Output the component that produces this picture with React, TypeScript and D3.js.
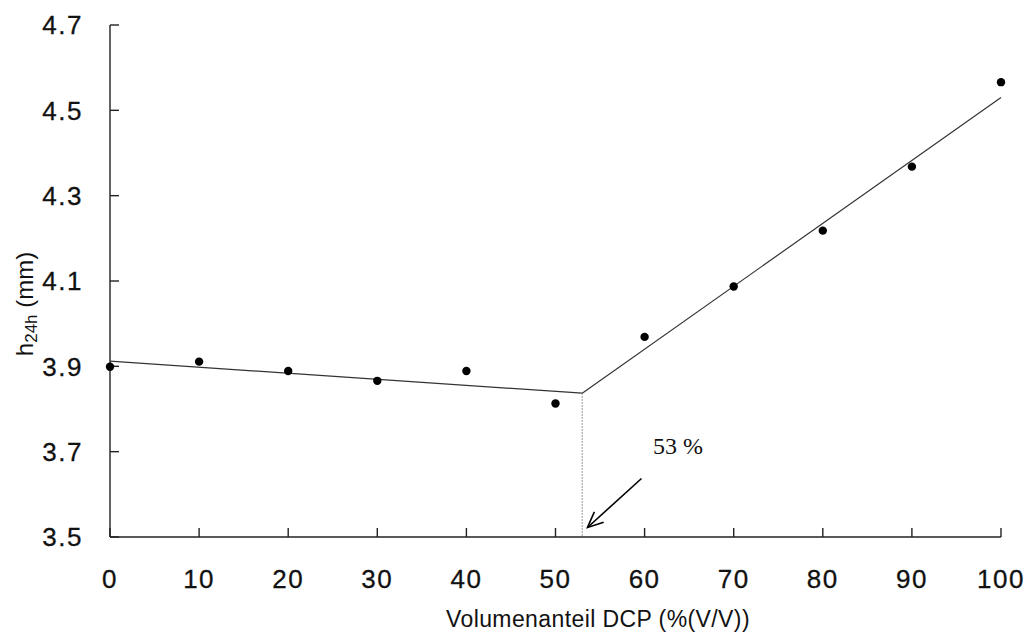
import React from "react";
import * as d3 from "d3";

// DCP volume share (% V/V) and measured height after 24 h (mm)
const dcpShare = [0, 10, 20, 30, 40, 50, 60, 70, 80, 90, 100];
const height24h = [3.899, 3.911, 3.889, 3.866, 3.889, 3.813, 3.969, 4.087, 4.218, 4.368, 4.566];

// Two linear fits meeting at the breakpoint
const breakPoint = 53;
const lowFit: [number, number][] = [[0, 3.912], [53, 3.837]];
const highFit: [number, number][] = [[53, 3.837], [100, 4.53]];

const xTicks = [0, 10, 20, 30, 40, 50, 60, 70, 80, 90, 100];
const yTicks = [3.5, 3.7, 3.9, 4.1, 4.3, 4.5, 4.7];

const W = 1029;
const H = 640;
const sans = "'Liberation Sans', Arial, sans-serif";
const serif = "'Liberation Serif', 'Times New Roman', serif";

export default function App() {
  const x = d3.scaleLinear().domain([0, 100]).range([110, 1001]);
  const y = d3.scaleLinear().domain([3.5, 4.7]).range([537, 25]);
  const line = d3
    .line<[number, number]>()
    .x((d) => x(d[0]))
    .y((d) => y(d[1]));

  const breakY = y(lowFit[1][1]);
  const tail = { x: 641.5, y: 478.5 };
  const tip = { x: 587.5, y: 527.5 };
  const ang = Math.atan2(tail.y - tip.y, tail.x - tip.x);
  const headLen = 17;
  const spread = 0.42;
  const h1 = [tip.x + headLen * Math.cos(ang + spread), tip.y + headLen * Math.sin(ang + spread)];
  const h2 = [tip.x + headLen * Math.cos(ang - spread), tip.y + headLen * Math.sin(ang - spread)];

  return (
    <svg
      width={W}
      height={H}
      style={{ position: "absolute", left: 0, top: 0, background: "#fff" }}
    >
      {/* axes */}
      <line x1={x(0)} x2={x(0)} y1={y(4.7)} y2={y(3.5)} stroke="#222" strokeWidth={1.4} />
      <line x1={x(0)} x2={x(100)} y1={y(3.5)} y2={y(3.5)} stroke="#222" strokeWidth={1.4} />
      {yTicks.map((t) => (
        <g key={"y" + t}>
          <line x1={x(0)} x2={x(0) + 9} y1={y(t)} y2={y(t)} stroke="#222" strokeWidth={1.4} />
          <text
            x={83}
            y={y(t)}
            dy="0.36em"
            textAnchor="end"
            fontFamily={sans}
            fontSize={26}
            letterSpacing={1.5}
            stroke="#111"
            strokeWidth={0.3}
            fill="#111"
          >
            {d3.format(".1f")(t)}
          </text>
        </g>
      ))}
      {xTicks.map((t) => (
        <g key={"x" + t}>
          <line x1={x(t)} x2={x(t)} y1={y(3.5)} y2={y(3.5) - 9} stroke="#222" strokeWidth={1.4} />
          <text
            x={x(t)}
            y={579}
            dy="0.36em"
            textAnchor="middle"
            fontFamily={sans}
            fontSize={26}
            letterSpacing={1.5}
            stroke="#111"
            strokeWidth={0.3}
            fill="#111"
          >
            {t}
          </text>
        </g>
      ))}

      {/* axis titles */}
      <text
        x={598}
        y={627}
        textAnchor="middle"
        fontFamily={sans}
        fontSize={23}
        letterSpacing={0.4}
        fill="#111"
      >
        Volumenanteil DCP (%(V/V))
      </text>
      <text
        transform="translate(33,304) rotate(-90)"
        textAnchor="middle"
        fontFamily={sans}
        fontSize={24}
        fill="#111"
      >
        h
        <tspan fontSize={17} dy={4}>24h</tspan>
        <tspan dy={-4}> (mm)</tspan>
      </text>

      {/* fitted lines */}
      <path d={line(lowFit) ?? ""} fill="none" stroke="#333" strokeWidth={1.2} />
      <path d={line(highFit) ?? ""} fill="none" stroke="#333" strokeWidth={1.2} />
      <line
        x1={x(breakPoint)}
        x2={x(breakPoint)}
        y1={breakY}
        y2={y(3.5)}
        stroke="#777"
        strokeWidth={1}
        strokeDasharray="1.5 1.5"
      />

      {/* measured points */}
      {dcpShare.map((v, i) => (
        <circle key={v} cx={x(v)} cy={y(height24h[i])} r={4.2} fill="#000" />
      ))}

      {/* breakpoint annotation */}
      <text x={653} y={454} fontFamily={serif} fontSize={24} fill="#111">
        {breakPoint} %
      </text>
      <line x1={tail.x} y1={tail.y} x2={tip.x} y2={tip.y} stroke="#000" strokeWidth={1.6} />
      <polyline
        points={`${h1[0]},${h1[1]} ${tip.x},${tip.y} ${h2[0]},${h2[1]}`}
        fill="none"
        stroke="#000"
        strokeWidth={1.6}
      />
    </svg>
  );
}
